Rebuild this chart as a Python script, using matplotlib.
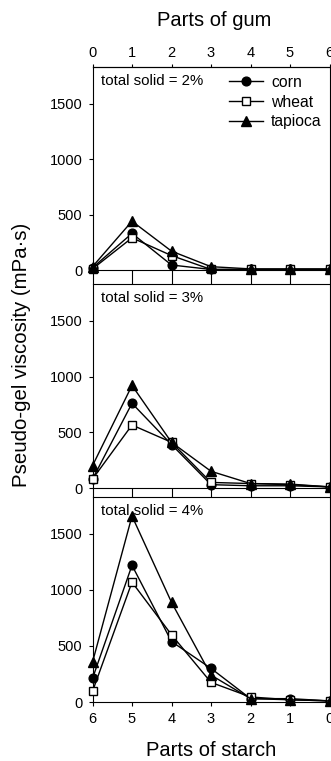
import matplotlib
matplotlib.use("Agg")
import matplotlib.pyplot as plt

plt.rcParams['font.family'] = ['Liberation Sans', 'DejaVu Sans']

# parts of gum (top axis) and matching parts of starch (bottom axis)
gum = [0, 1, 2, 3, 4, 5, 6]
starch_labels = ['6', '5', '4', '3', '2', '1', '0']

solids = ['2%', '3%', '4%']

# viscosity (mPa·s), one list per panel
corn_2 = [20, 330, 45, 5, 5, 5, 5]
wheat_2 = [10, 290, 130, 5, 5, 5, 5]
tapioca_2 = [30, 440, 170, 30, 10, 10, 10]

corn_3 = [80, 760, 390, 30, 20, 20, 10]
wheat_3 = [80, 565, 410, 50, 40, 30, 10]
tapioca_3 = [200, 920, 410, 150, 40, 35, 10]

corn_4 = [210, 1220, 540, 300, 30, 30, 10]
wheat_4 = [95, 1070, 600, 175, 45, 20, 10]
tapioca_4 = [355, 1660, 890, 240, 30, 20, 10]

panels = [
    (corn_2, wheat_2, tapioca_2),
    (corn_3, wheat_3, tapioca_3),
    (corn_4, wheat_4, tapioca_4),
]

W, H = 331, 761
PX = 72 / 100  # points per pixel
fig = plt.figure(figsize=(W / 100, H / 100), dpi=100)

left = 92.5 / W
width = 237 / W
# (top, bottom) of each panel in pixels, and bottom tick length
boxes = [(67, 270), (284, 488), (497, 702)]
bottom_ticks = [14, 9, 4]

for i, (top, bottom) in enumerate(boxes):
    ax = fig.add_axes([left, (H - bottom) / H, width, (bottom - top) / H])
    corn, wheat, tapioca = panels[i]

    ax.plot(gum, corn, color='black', lw=1, marker='o', ms=6.3,
            mfc='black', label='corn', clip_on=False, zorder=3)
    ax.plot(gum, wheat, color='black', lw=1, marker='s', ms=5.7,
            mfc='white', label='wheat', clip_on=False, zorder=3)
    ax.plot(gum, tapioca, color='black', lw=1, marker='^', ms=6.7,
            mfc='black', label='tapioca', clip_on=False, zorder=3)

    ax.set_xlim(0, 6)
    ax.set_ylim(0, 1830)
    ax.set_yticks([0, 500, 1000, 1500])
    ax.set_xticks(gum)
    ax.tick_params(direction='out', length=4 * PX, width=0.8, labelsize=10.5,
                   pad=6 * PX)
    ax.tick_params(axis='x', which='major', bottom=True,
                   length=bottom_ticks[i] * PX)

    ax.text(0.035, 0.93, 'total solid = ' + solids[i], transform=ax.transAxes,
            fontsize=10.8, va='center', ha='left')

    if i == 0:
        ax.tick_params(axis='x', labelbottom=False)
        # top axis: parts of gum
        sec = ax.secondary_xaxis('top')
        sec.set_xticks(gum)
        sec.tick_params(direction='out', length=3 * PX, width=0.8,
                        labelsize=10.5, pad=4 * PX)
        ax.legend(loc='upper right', frameon=False, fontsize=11.3,
                  handlelength=2.2, handletextpad=0.5, labelspacing=0.3,
                  borderaxespad=0.1)
    elif i == 1:
        ax.tick_params(axis='x', labelbottom=False)
    else:
        ax.set_xticklabels(starch_labels)

# shared axis titles
fig.text(214 / W, 1 - 20 / H, 'Parts of gum', ha='center', va='center', fontsize=14.5)
fig.text(211 / W, 1 - 750 / H, 'Parts of starch', ha='center', va='center', fontsize=14.5)
fig.text(22 / W, 1 - 355 / H, 'Pseudo-gel viscosity (mPa·s)', rotation=90,
         ha='center', va='center', fontsize=14.7)

fig.savefig('out.png', dpi=100)
